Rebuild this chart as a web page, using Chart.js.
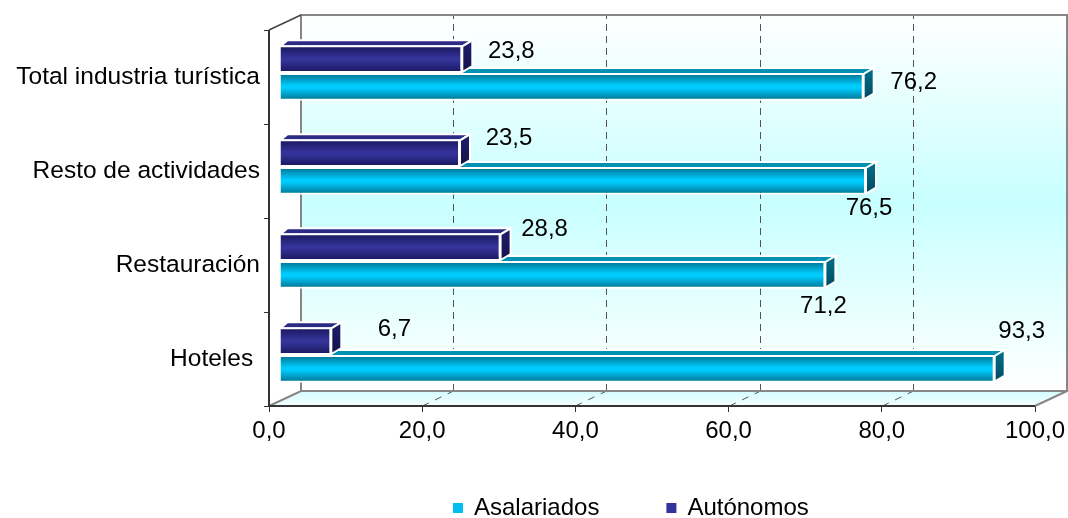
<!DOCTYPE html>
<html><head><meta charset="utf-8">
<style>html,body{margin:0;padding:0;background:#fff}#w{width:1068px;height:518px}</style>
<script src="https://cdn.jsdelivr.net/npm/chart.js@4/dist/chart.umd.js"></script>
</head><body><div id="w"><canvas id="c"></canvas></div>
<script>
const categories = ['Total industria turística','Resto de actividades','Restauración','Hoteles '];
const asalariados = [76.2,76.5,71.2,93.3];
const autonomos = [23.8,23.5,28.8,6.7];
const xTicks = [0,20,40,60,80,100];
const FONT = '"Liberation Sans", Arial, sans-serif';
const FS = 24;
const FS_CAT = 24.5;
const fmt = v => v.toFixed(1).replace('.',',');
// value label offsets from (bar end, band centre)
const autLabelOffsets = [[60,-26],[60,-33],[55,-36],[74,-30]];
const asaLabelOffsets = [[61,5],[14,37],[9,41],[38,-28]];
const DEPTH = {x:32,y:-15};
const BAR_SHIFT = {x:11,y:-4};
const FACE = {x:10,y:-6};
const styles = {
  aut:{edge:'#1d1a63',mid:'#333399',top:'#2b2a85',sideA:'#1d1b68',sideB:'#15134a'},
  asa:{edge:'#007d9c',mid:'#00ccff',top:'#0091b3',sideA:'#006a85',sideB:'#004a60'}
};
const CAT_PCT = 0.59;
function barGrad(c,st,first){
  if(c.dataIndex===undefined) return st.mid;
  const y=c.chart.scales.y; if(!y) return st.mid;
  const centre=y.getPixelForValue(c.dataIndex);
  const th=(y.height/categories.length)*CAT_PCT/2;
  if(!isFinite(centre)||!isFinite(th)) return st.mid;
  const t=first?centre-th:centre, b=t+th;
  const g=c.chart.ctx.createLinearGradient(0,t+2,0,b-2);
  g.addColorStop(0,st.edge);g.addColorStop(.45,st.mid);g.addColorStop(.55,st.mid);g.addColorStop(1,st.edge);
  return g;
}
const scene = {
  id:'scene',
  beforeDatasetsDraw(ch){
    const {ctx,chartArea:a,scales:{x}}=ch;
    const dx=DEPTH.x,dy=DEPTH.y;
    ctx.save();
    // back wall
    let g=ctx.createLinearGradient(0,a.top+dy,0,a.bottom+dy);
    g.addColorStop(0,'#ffffff');g.addColorStop(.5,'#c8ffff');g.addColorStop(1,'#ffffff');
    ctx.fillStyle=g;
    ctx.fillRect(a.left+dx,a.top+dy,a.width,a.height);
    // floor
    g=ctx.createLinearGradient(0,a.bottom+dy,0,a.bottom);
    g.addColorStop(0,'#d4fcff');g.addColorStop(1,'#f4feff');
    ctx.fillStyle=g;
    ctx.beginPath();ctx.moveTo(a.left,a.bottom);ctx.lineTo(a.left+dx,a.bottom+dy);ctx.lineTo(a.right+dx,a.bottom+dy);ctx.lineTo(a.right,a.bottom);ctx.closePath();ctx.fill();
    // wall grid (dashed)
    ctx.strokeStyle='#555';ctx.lineWidth=1;
    xTicks.slice(1,-1).forEach(v=>{
      const p=Math.round(x.getPixelForValue(v))+.5;
      ctx.setLineDash([7,5]);
      ctx.beginPath();ctx.moveTo(p+dx-1,a.bottom+dy);ctx.lineTo(p+dx-1,a.top+dy);ctx.stroke();
      ctx.setLineDash([7,7]);
      ctx.beginPath();ctx.moveTo(p,a.bottom);ctx.lineTo(p+dx-1,a.bottom+dy);ctx.stroke();
    });
    ctx.setLineDash([]);
    // wall frame
    ctx.strokeStyle='#868686';ctx.lineWidth=2;
    ctx.beginPath();
    ctx.moveTo(a.left,a.bottom);ctx.lineTo(a.left+dx,a.bottom+dy);ctx.lineTo(a.right+dx,a.bottom+dy);ctx.lineTo(a.right,a.bottom);
    ctx.moveTo(a.left+dx,a.bottom+dy);ctx.lineTo(a.left+dx,a.top+dy);ctx.lineTo(a.right+dx,a.top+dy);ctx.lineTo(a.right+dx,a.bottom+dy);
    ctx.stroke();
    ctx.strokeStyle='#444';ctx.lineWidth=1.5;
    ctx.beginPath();ctx.moveTo(a.left,a.top);ctx.lineTo(a.left+dx,a.top+dy);ctx.stroke();
    // axis lines
    ctx.strokeStyle='#333';ctx.lineWidth=2;
    ctx.beginPath();ctx.moveTo(a.left,a.top);ctx.lineTo(a.left,a.bottom);ctx.lineTo(a.right,a.bottom);ctx.stroke();
    ctx.restore();
  },
  beforeDatasetDraw(ch,args){
    const {ctx}=ch;
    const st=args.index===0?styles.aut:styles.asa;
    const meta=ch.getDatasetMeta(args.index);
    ctx.save();
    ctx.translate(BAR_SHIFT.x,BAR_SHIFT.y);
    meta.data.forEach(el=>{
      const x0=el.base,x1=el.x,t=el.y-el.height/2+1,b=el.y+el.height/2-1;
      ctx.strokeStyle='#fff';ctx.lineWidth=2;ctx.lineJoin='miter';
      // top face
      ctx.fillStyle=st.top;
      ctx.beginPath();ctx.moveTo(x0,t);ctx.lineTo(x0-FACE.y+1,t+FACE.y);ctx.lineTo(x1+FACE.x,t+FACE.y);ctx.lineTo(x1,t);ctx.closePath();ctx.fill();ctx.stroke();
      // side face
      const g=ctx.createLinearGradient(0,t,0,b);
      g.addColorStop(0,st.sideA);g.addColorStop(1,st.sideB);
      ctx.fillStyle=g;
      ctx.beginPath();ctx.moveTo(x1,t);ctx.lineTo(x1+FACE.x,t+FACE.y);ctx.lineTo(x1+FACE.x,b+FACE.y);ctx.lineTo(x1,b);ctx.closePath();ctx.fill();ctx.stroke();
    });
    ctx.restore();
    ctx.save();
    ctx.translate(BAR_SHIFT.x,BAR_SHIFT.y);
  },
  afterDatasetDraw(ch){ ch.ctx.restore(); },
  afterDatasetsDraw(ch){
    const {ctx,scales:{x,y}}=ch;
    ctx.save();
    ctx.font=FS+'px '+FONT;ctx.fillStyle='#000';ctx.textAlign='center';ctx.textBaseline='middle';
    const put=(vals,offs)=>vals.forEach((v,i)=>{
      ctx.fillText(fmt(v),x.getPixelForValue(v)+offs[i][0],y.getPixelForValue(i)+offs[i][1]);
    });
    put(autonomos,autLabelOffsets);
    put(asalariados,asaLabelOffsets);
    ctx.restore();
  },
  afterLayout(ch){
    // legend sits right of centre and low in the reference
    ch.legend.left=386;ch.legend.right=1068;
    ch.legend.top-=28;ch.legend.bottom-=28;
  }
};
new Chart(document.getElementById('c'),{
  type:'bar',
  plugins:[scene],
  data:{labels:categories,datasets:[
    {label:'Autónomos',data:autonomos,backgroundColor:c=>barGrad(c,styles.aut,true),borderColor:'#fff',borderWidth:2},
    {label:'Asalariados',data:asalariados,backgroundColor:c=>barGrad(c,styles.asa,false),borderColor:'#fff',borderWidth:2}
  ]},
  options:{
    indexAxis:'y',responsive:true,maintainAspectRatio:false,animation:false,
    layout:{padding:{top:30,right:33,left:0,bottom:-40}},
    datasets:{bar:{barPercentage:1,categoryPercentage:CAT_PCT}},
    plugins:{
      tooltip:{enabled:false},title:{display:false},
      legend:{display:true,position:'bottom',align:'start',reverse:true,
        labels:{color:'#000',font:{family:FONT,size:FS},boxWidth:8,boxHeight:8,padding:68,
          generateLabels(ch){
            const L=Chart.defaults.plugins.legend.labels.generateLabels(ch);
            L.forEach(i=>{
              const c=i.datasetIndex===0?styles.aut.mid:'#00bfee';
              i.fillStyle=c;i.strokeStyle=c;i.lineWidth=2;
            });
            return L;
          }}}
    },
    scales:{
      x:{type:'linear',min:0,max:100,
        ticks:{stepSize:20,color:'#000',font:{family:FONT,size:FS},maxRotation:0,padding:5,callback:v=>fmt(v)},
        grid:{drawOnChartArea:false,drawTicks:true,tickLength:6,color:'#333',tickWidth:1},
        border:{display:false},
        afterFit(s){s.height=50;s.paddingRight=0;}},
      y:{type:'category',
        ticks:{color:'#000',font:{family:FONT,size:FS_CAT},padding:4,autoSkip:false},
        grid:{drawOnChartArea:false,drawTicks:true,tickLength:5,color:'#333',tickWidth:1,offset:true},
        border:{display:false},
        afterFit(s){s.width=269;}}
    }
  }
});
</script></body></html>
